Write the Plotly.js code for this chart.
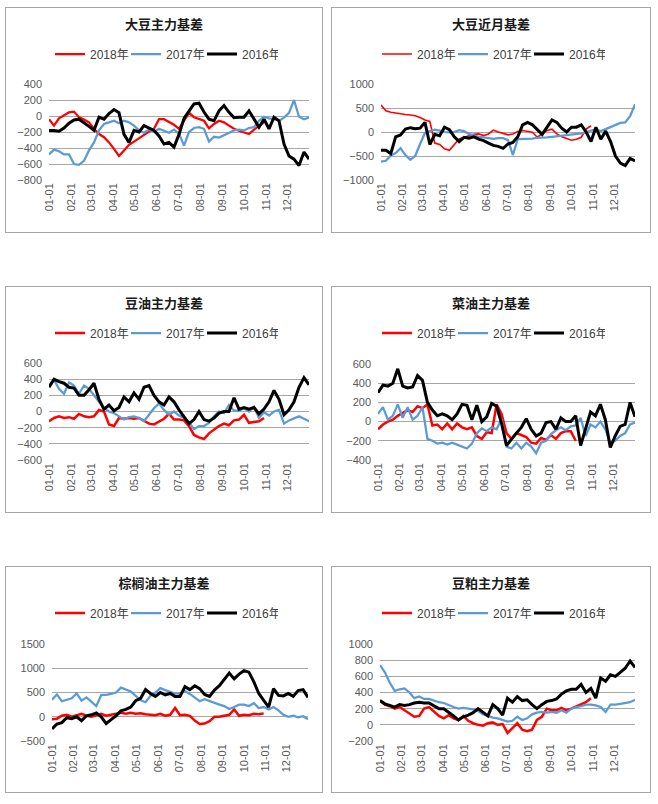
<!DOCTYPE html>
<html><head><meta charset="utf-8">
<script src="https://cdn.plot.ly/plotly-3.0.1.min.js"></script>
<style>
body{margin:0;background:#fff;width:658px;height:804px;position:relative;overflow:hidden}
.panel{position:absolute;border:1px solid #a6a6a6;background:#fff}
</style></head><body>
<div id="p1" class="panel" style="left:5px;top:7px;width:316px;height:224px"></div>
<div id="p2" class="panel" style="left:331px;top:7px;width:318px;height:224px"></div>
<div id="p3" class="panel" style="left:5px;top:286px;width:316px;height:225px"></div>
<div id="p4" class="panel" style="left:331px;top:286px;width:318px;height:225px"></div>
<div id="p5" class="panel" style="left:5px;top:566px;width:316px;height:225px"></div>
<div id="p6" class="panel" style="left:331px;top:566px;width:318px;height:225px"></div>
<script>
// weekly sample dates (month-day)
const dates = ['01-01','01-08','01-15','01-22','01-29','02-05','02-12','02-19','02-26','03-05','03-12','03-19','03-26','04-02','04-09','04-16','04-23','04-30','05-07','05-14','05-21','05-28','06-04','06-11','06-18','06-25','07-02','07-09','07-16','07-23','07-30','08-06','08-13','08-20','08-27','09-03','09-10','09-17','09-24','10-01','10-08','10-15','10-22','10-29','11-05','11-12','11-19','11-26','12-03','12-10','12-17','12-24','12-31'];
const monthTicks = ['01-01','02-01','03-01','04-01','05-01','06-01','07-01','08-01','09-01','10-01','11-01','12-01'];
const seriesNames = ['2018年','2017年','2016年'];

// 大豆主力基差
const soyMain2018 = [-40,-120,-30,5,45,55,-15,-45,-80,-160,-225,-265,-330,-410,-500,-430,-360,-320,-275,-240,-195,-160,-40,-40,-70,-110,-160,-60,40,-15,-40,-60,-155,-100,-60,-80,-120,-160,-185,-210,-225,-170,-120,-80];
const soyMain2017 = [-480,-420,-440,-480,-480,-600,-610,-560,-430,-330,-180,-100,-80,-60,-90,-60,-80,-120,-180,-210,-170,-200,-160,-190,-210,-170,-220,-370,-200,-150,-140,-160,-320,-260,-270,-240,-210,-180,-170,-180,-150,-140,-60,-10,-30,-40,-60,-20,40,200,-10,-40,-20];
const soyMain2016 = [-180,-180,-190,-150,-90,-50,-40,-80,-130,-180,-15,-40,30,80,40,-230,-330,-180,-200,-120,-150,-180,-250,-350,-330,-390,-230,-30,60,150,160,50,-40,-60,65,130,45,-20,-15,-15,65,-40,-140,-40,-160,-15,-60,-350,-500,-540,-620,-450,-540];

// 大豆近月基差
const soyNear2018 = [560,440,410,390,375,365,355,340,300,250,220,-230,-260,-350,-380,-250,-145,-110,-75,-50,-40,-75,-40,40,0,-30,-60,-40,10,30,10,-5,-110,-40,30,60,-40,-100,-140,-170,-150,-110,60,130];
const soyNear2017 = [-620,-600,-490,-440,-340,-480,-580,-500,-250,-20,20,50,30,0,-10,0,40,20,-40,-75,-100,-110,-130,-145,-130,-130,-170,-480,-150,-150,-150,-140,-120,-120,-110,-100,-90,-80,-60,-60,-40,-30,-10,30,50,20,60,100,150,190,200,330,580];
const soyNear2016 = [-380,-380,-450,-100,-60,60,90,70,80,200,-260,-50,-80,100,50,-100,-200,-110,-130,-100,-150,-180,-230,-280,-300,-340,-250,-220,-100,150,200,150,50,-50,100,250,200,80,0,100,100,150,0,-200,100,-150,20,-200,-500,-650,-700,-550,-600];

// 豆油主力基差
const soyOil2018 = [-120,-80,-60,-80,-70,-90,-30,-60,-70,-60,20,0,-160,-180,-80,-90,-80,-90,-80,-110,-150,-160,-120,-90,-30,-100,-100,-110,-180,-290,-320,-340,-270,-220,-180,-150,-170,-110,-100,-40,-140,-130,-120,-80];
const soyOil2017 = [320,390,280,220,360,320,220,320,280,200,110,40,0,-20,-60,-100,-70,-60,-80,-120,-40,40,100,20,-40,0,-50,-80,-130,-220,-180,-180,-140,-60,0,-20,80,10,10,40,0,60,-80,-10,-50,0,20,-150,-110,-80,-60,-90,-120];
const soyOil2016 = [300,400,370,350,300,290,200,200,270,350,150,30,80,10,50,180,120,230,150,300,320,200,120,80,180,120,20,-60,-150,-100,0,-100,-120,-80,-20,0,0,170,30,50,30,50,-30,30,120,260,150,-40,20,120,300,420,330];

// 菜油主力基差
const rapeOil2018 = [-80,-30,0,20,60,90,120,100,160,140,180,-40,-30,-80,-20,-80,-20,-60,-80,-60,-150,-180,-110,-120,180,80,-120,-180,-120,-140,-160,-220,-230,-170,-190,-140,-180,-120,-100,-100,-200];
const rapeOil2017 = [80,150,20,60,180,40,150,20,60,150,-180,-200,-230,-220,-240,-220,-240,-260,-280,-230,-120,-70,-100,-60,-80,30,-260,-280,-220,-280,-220,-260,-330,-220,-200,-130,-90,-60,-90,-50,-40,40,-150,-30,-60,0,-80,-220,-200,-150,-120,-30,-10];
const rapeOil2016 = [300,380,370,400,550,370,350,360,480,430,200,120,60,80,60,20,80,180,170,20,170,0,50,190,160,-20,-250,-180,-120,-60,30,-80,-150,-120,-10,0,-80,40,0,0,60,-250,-80,100,60,180,20,-270,-150,-50,-30,200,50];

// 棕榈油主力基差
const palmOil2018 = [-50,-40,20,40,0,30,60,20,0,30,60,20,40,50,80,60,80,60,70,50,40,30,60,20,40,180,30,40,20,-80,-150,-140,-90,0,0,20,40,150,20,40,30,60,50,70];
const palmOil2017 = [350,460,320,350,380,480,330,400,300,220,450,450,470,500,600,560,520,430,340,300,430,500,590,550,520,480,470,530,470,400,320,360,320,280,250,220,160,200,250,250,220,280,180,200,150,200,130,40,0,20,-10,10,-50];
const palmOil2016 = [-250,-150,-120,-20,-40,0,-80,20,40,80,0,-140,-60,20,120,150,200,330,380,560,480,420,500,450,480,420,420,620,560,640,580,460,420,550,640,760,900,780,880,950,920,720,480,340,200,580,440,430,480,420,540,560,400];

// 豆粕主力基差
const soyMeal2018 = [300,250,230,200,220,180,130,100,110,200,220,160,110,80,120,80,60,110,50,20,0,-10,20,30,0,10,-100,-40,20,-60,-80,-60,60,100,200,180,180,210,180,200,230,260,280,330];
const soyMeal2017 = [740,650,520,420,440,450,400,330,350,320,320,300,280,270,240,220,200,210,200,190,170,130,110,90,80,60,40,50,100,60,80,130,150,160,150,160,150,180,150,200,220,230,250,250,240,220,160,250,250,260,270,280,310];
const soyMeal2016 = [300,260,240,220,250,240,250,270,280,270,270,240,200,200,160,110,60,100,120,150,200,160,110,250,200,120,330,280,350,300,310,250,200,250,290,300,320,380,420,440,440,500,400,450,330,580,540,620,600,650,700,790,710];

const panels = [
  {id:'p1', title:'大豆主力基差', range:[-800,400], dtick:200, m:{l:43,r:13,t:76,b:52}, widths:[2.25,2.25,3], data:[soyMain2018, soyMain2017, soyMain2016]},
  {id:'p2', title:'大豆近月基差', range:[-1000,1000], dtick:500, m:{l:49,r:15,t:76,b:52}, widths:[1.6,2.25,3], data:[soyNear2018, soyNear2017, soyNear2016]},
  {id:'p3', title:'豆油主力基差', range:[-600,600], dtick:200, m:{l:43,r:13,t:76,b:52}, widths:[2.5,2.25,3], data:[soyOil2018, soyOil2017, soyOil2016]},
  {id:'p4', title:'菜油主力基差', range:[-400,600], dtick:200, m:{l:46,r:15,t:77,b:52}, widths:[2.5,2.25,3], data:[rapeOil2018, rapeOil2017, rapeOil2016]},
  {id:'p5', title:'棕榈油主力基差', range:[-500,1500], dtick:500, m:{l:46,r:14,t:77,b:51}, widths:[2.5,2.25,3], data:[palmOil2018, palmOil2017, palmOil2016]},
  {id:'p6', title:'豆粕主力基差', range:[-200,1000], dtick:200, m:{l:48,r:15,t:77,b:51}, widths:[2.5,2.25,3], data:[soyMeal2018, soyMeal2017, soyMeal2016]}
];
const colors = ['#ff0000','#5b9bd5','#000000'];
const YEAR = '2017-';
const tickFont = {family:'Liberation Sans, Arial, sans-serif', size:11, color:'#595959'};

panels.forEach(p => {
  const el = document.getElementById(p.id);
  const W = el.clientWidth, H = el.clientHeight;
  const traces = p.data.map((ys, k) => ({
    type:'scatter', mode:'lines', name:seriesNames[k],
    x: dates.slice(0, ys.length).map(d => YEAR + d), y: ys,
    line:{color:colors[k], width:p.widths[k]}, hoverinfo:'skip'
  }));
  const layout = {
    width:W, height:H, margin:p.m, paper_bgcolor:'#fff', plot_bgcolor:'#fff',
    showlegend:true,
    title:{text:p.title, x:0.5, xref:'container', xanchor:'center', y:1-16/H, yref:'container', yanchor:'middle',
      font:{family:'Noto Sans CJK SC, sans-serif', size:13, color:'#1a1a1a', weight:'bold'}},
    legend:{orientation:'h', x:0.5, xref:'container', xanchor:'center', y:1-46/H, yref:'container', yanchor:'middle',
      entrywidth:31, entrywidthmode:'pixels',
      font:{family:'Liberation Sans, Noto Sans CJK SC, sans-serif', size:12, color:'#404040'}, bgcolor:'rgba(0,0,0,0)', traceorder:'normal'},
    xaxis:{type:'date', range:[YEAR+'01-01', YEAR+'12-31'], tickvals: monthTicks.map(d=>YEAR+d), ticktext: monthTicks,
      tickangle:-90, tickfont:tickFont, showgrid:false, zeroline:false, showline:false, ticks:'', fixedrange:true},
    yaxis:{range:p.range, dtick:p.dtick, tick0:p.range[0], tickfont:tickFont, gridcolor:'#a6a6a6', gridwidth:1,
      ticklabelstandoff:6, zeroline:false, showline:false, ticks:'', fixedrange:true}
  };
  Plotly.newPlot(el, traces, layout, {staticPlot:true, displayModeBar:false});
});
</script>
</body></html>
